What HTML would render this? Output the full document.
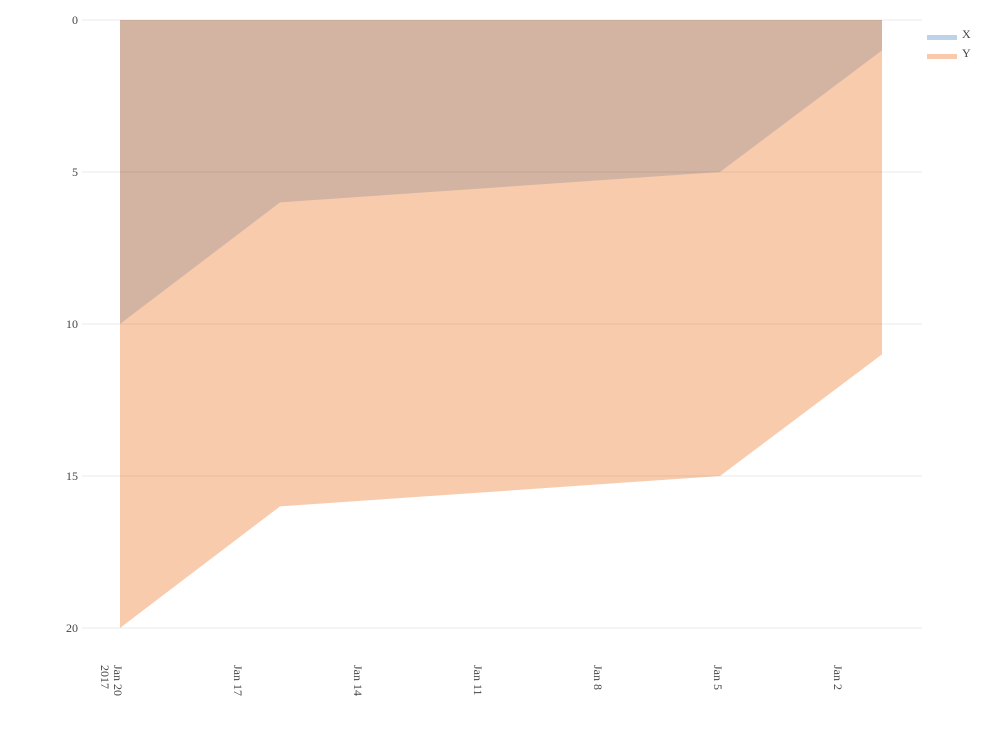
<!DOCTYPE html>
<html><head><meta charset="utf-8"><style>
body{margin:0;background:#fff}
svg{display:block;font-family:"Liberation Serif",serif;font-size:12px;fill:#444}
</style></head><body>
<svg id="chart" width="992" height="744">
<g id="areas"></g><g id="grid"></g><g id="yticks"></g><g id="xticks"></g>
<g>
<g><rect x="927" y="35" width="30" height="5" fill="#bcd3ea"/><text x="962" y="38">X</text></g>
<g><rect x="927" y="54" width="30" height="5" fill="#f8c9aa"/><text x="962" y="57">Y</text></g>
</g>
</svg>
<script>
const dates=[20,16,5,0.95];
const xValues=[10,6,5,1];
const yValues=[10,10,10,10];
const yTicks=[0,5,10,15,20];
const xTickDays=[20,17,14,11,8,5,2];
const xTickLabels=["Jan 20","Jan 17","Jan 14","Jan 11","Jan 8","Jan 5","Jan 2"];
const NS="http://www.w3.org/2000/svg";
const X=d=>120+(20-d)*40;
const Y=v=>20+v*30.4;
function mk(t,a,p){const e=document.createElementNS(NS,t);for(const k in a)e.setAttribute(k,a[k]);p.appendChild(e);return e;}
const grid=document.getElementById('grid'),yt=document.getElementById('yticks'),xt=document.getElementById('xticks'),ar=document.getElementById('areas');
yTicks.forEach(v=>{
 const l=mk('line',{x1:82,x2:922,y1:Y(v),y2:Y(v),stroke:'rgba(0,0,0,0.08)','stroke-width':1},grid);
 
 
 const t=mk('text',{x:78,y:Y(v)+4,'text-anchor':'end'},yt);t.textContent=v;
 
 
});
xTickDays.forEach((d,i)=>{
 const t=mk('text',{transform:`translate(${X(d)-6},665) rotate(90)`},xt);t.textContent=xTickLabels[i];
 
 
});
const t2=mk('text',{transform:`translate(${X(20)-19},665) rotate(90)`},xt);t2.textContent='2017';


const tot=xValues.map((v,i)=>v+yValues[i]);
let pY=dates.map((d,i)=>`${X(d)},${Y(tot[i])}`).concat(dates.slice().reverse().map(d=>`${X(d)},${Y(0)}`));
const a2=mk('polygon',{points:pY.join(' '),fill:'#f8cbad'},ar);


let pX=dates.map((d,i)=>`${X(d)},${Y(xValues[i])}`).concat(dates.slice().reverse().map(d=>`${X(d)},${Y(0)}`));
const a1=mk('polygon',{points:pX.join(' '),fill:'#d3b4a3'},ar);


</script>
</body></html>
